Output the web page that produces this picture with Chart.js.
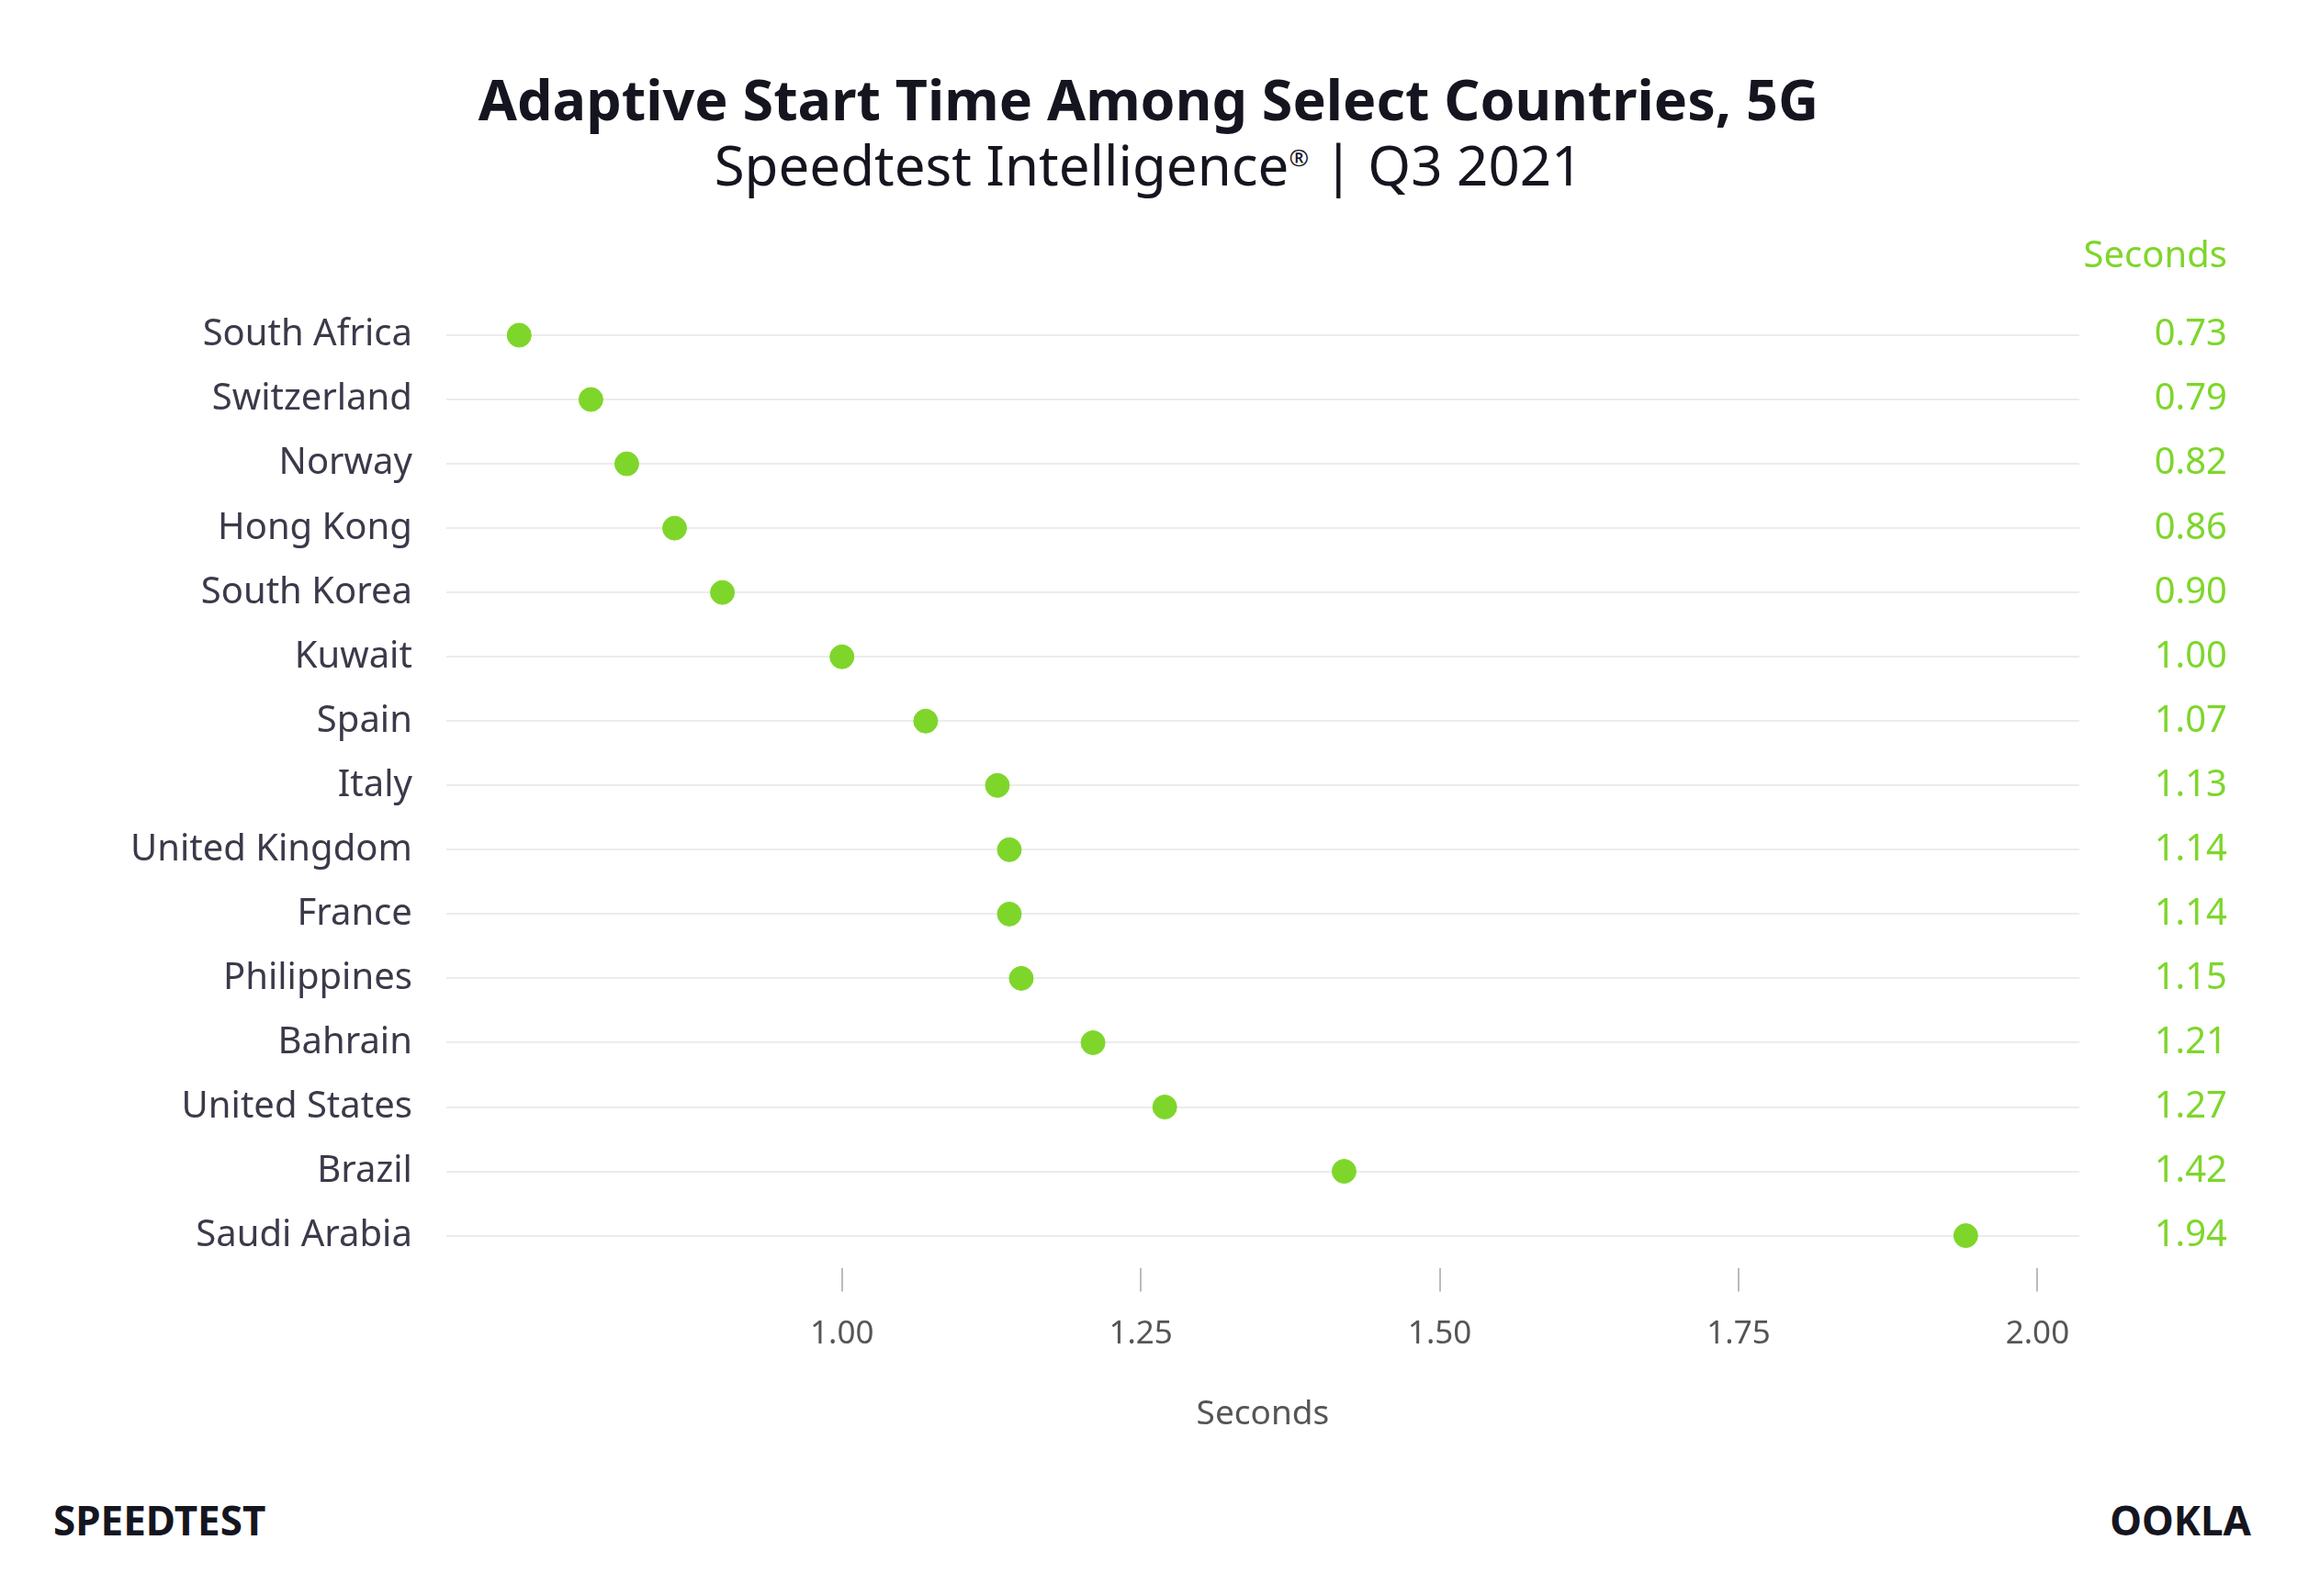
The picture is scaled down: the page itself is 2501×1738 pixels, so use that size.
<!DOCTYPE html>
<html><head><meta charset="utf-8">
<script src="https://cdn.jsdelivr.net/npm/chart.js@4"></script>
<style>
html,body{margin:0;padding:0;background:#fff;width:2501px;height:1738px;overflow:hidden;font-family:"Noto Sans",sans-serif}
#wrap{position:absolute;left:0;top:0;width:2501px;height:1738px}
.t{position:absolute;left:0;width:2501px;text-align:center;color:#15151f}
</style></head><body>
<div class="t" style="top:66px;font-size:61px;font-weight:bold">Adaptive Start Time Among Select Countries, 5G</div>
<div class="t" style="top:138px;font-size:60px">Speedtest Intelligence<sup style="font-size:26px">®</sup> | Q3 2021</div>
<div style="position:absolute;left:58px;top:1625px;font-size:44px;font-weight:bold;color:#15151f">SPEEDTEST</div>
<div style="position:absolute;right:50px;top:1625px;font-size:44px;font-weight:bold;color:#15151f">OOKLA</div>
<div id="wrap"><canvas id="c" width="2501" height="1738"></canvas></div>
<script>
Chart.defaults.font.family="'Noto Sans', sans-serif";
const countries=["South Africa","Switzerland","Norway","Hong Kong","South Korea","Kuwait","Spain","Italy","United Kingdom","France","Philippines","Bahrain","United States","Brazil","Saudi Arabia"];
const seconds=[0.73,0.79,0.82,0.86,0.90,1.00,1.07,1.13,1.14,1.14,1.15,1.21,1.27,1.42,1.94];
const xTicks=[1.00,1.25,1.50,1.75,2.00];
const green="#7ed62b";
const rightLabels={id:"rl",afterDraw(ch){const c=ch.ctx,y=ch.scales.y;c.save();c.fillStyle=green;c.textAlign="right";c.textBaseline="middle";c.font="40px 'Noto Sans'";
seconds.forEach((v,i)=>c.fillText(v.toFixed(2),2425,y.getPixelForValue(i)));
c.fillText("Seconds",2425,280);c.restore();}};
new Chart(document.getElementById("c"),{type:"scatter",
data:{datasets:[{data:seconds.map((v,i)=>({x:v,y:i})),backgroundColor:green,borderColor:green,pointRadius:13,pointHoverRadius:13}]},
options:{responsive:false,animation:false,devicePixelRatio:1,
layout:{padding:{top:330,left:105,right:237,bottom:171}},
plugins:{legend:{display:false},tooltip:{enabled:false}},
scales:{
x:{type:"linear",min:0.669,max:2.035,afterBuildTicks(a){a.ticks=xTicks.map(v=>({value:v}));},
border:{display:false},grid:{drawOnChartArea:false,tickLength:26,color:"#bbb",lineWidth:2},
ticks:{color:"#555",font:{size:35},padding:25,callback:v=>v.toFixed(2)},
title:{display:true,text:"Seconds",color:"#555",font:{size:37},padding:{top:20}}},
y:{type:"linear",min:-0.5,max:14.5,reverse:true,afterBuildTicks(a){a.ticks=countries.map((c,i)=>({value:i}));},
border:{display:false},grid:{color:"#ececec",lineWidth:2,drawTicks:false},
ticks:{color:"#3a3a4a",font:{size:40},padding:37,callback:v=>countries[v]}}}},
plugins:[rightLabels]});
</script></body></html>
